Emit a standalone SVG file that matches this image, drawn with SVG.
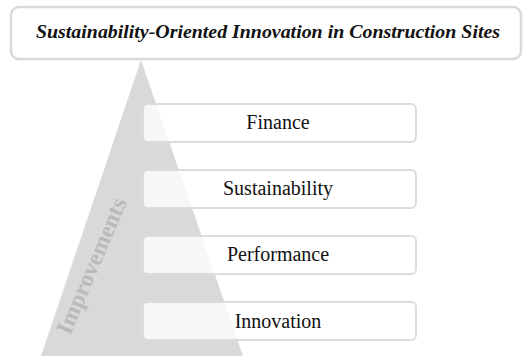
<svg xmlns="http://www.w3.org/2000/svg" width="523" height="358" viewBox="0 0 523 358">
<style>
.box{fill:#ffffff;fill-opacity:0.78;stroke:#dcdcdc;stroke-width:2}
.lbl{font-family:"Liberation Serif","Times New Roman",serif;font-size:20px;fill:#111;text-anchor:middle}
.title{font-family:"Liberation Serif","Times New Roman",serif;font-size:19px;font-weight:bold;font-style:italic;fill:#111;text-anchor:middle}
</style>
<rect width="523" height="358" fill="#ffffff"/>
<g id="pyramid">
<polygon points="141,60 243,356 41,356" fill="#d9d9d9"/>
<text transform="translate(70,336) rotate(-67)" font-family="Liberation Serif, Times New Roman, serif" font-size="23.5" font-weight="bold" fill="#bababa">Improvements</text>
</g>
<g id="title">
<rect x="11" y="7" width="510" height="52" rx="8" fill="#ffffff" stroke="#d9d9d9" stroke-width="2.5"/>
<text class="title" x="268" y="38" textLength="464" lengthAdjust="spacingAndGlyphs">Sustainability-Oriented Innovation in Construction Sites</text>
</g>
<g id="finance">
<rect class="box" x="143" y="104" width="273" height="38" rx="5"/>
<text class="lbl" x="278" y="129">Finance</text>
</g>
<g id="sustainability">
<rect class="box" x="143" y="170" width="273" height="38" rx="5"/>
<text class="lbl" x="278" y="195">Sustainability</text>
</g>
<g id="performance">
<rect class="box" x="143" y="236" width="273" height="38" rx="5"/>
<text class="lbl" x="278" y="261">Performance</text>
</g>
<g id="innovation">
<rect class="box" x="143" y="302" width="273" height="38" rx="5"/>
<text class="lbl" x="278" y="328">Innovation</text>
</g>
<g id="connectors"></g>
</svg>
